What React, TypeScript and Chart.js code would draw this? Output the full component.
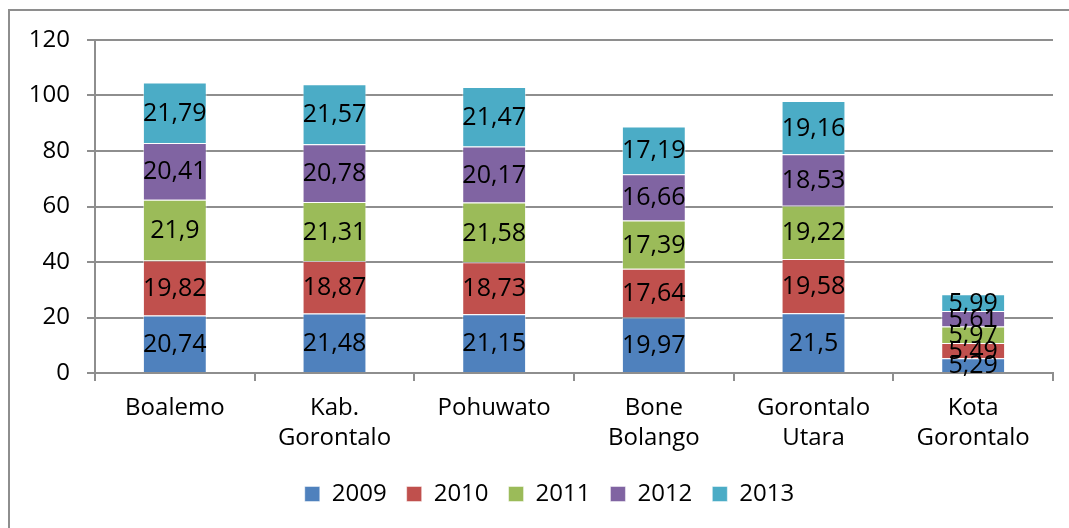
import React, { useEffect, useRef } from "react";
import { Chart, registerables } from "chart.js";

Chart.register(...registerables);

const categories: (string | string[])[] = [
  "Boalemo",
  ["Kab.", "Gorontalo"],
  "Pohuwato",
  ["Bone", "Bolango"],
  ["Gorontalo", "Utara"],
  ["Kota", "Gorontalo"],
];

const seriesNames = ["2009", "2010", "2011", "2012", "2013"];
const values2009 = [20.74, 21.48, 21.15, 19.97, 21.5, 5.29];
const values2010 = [19.82, 18.87, 18.73, 17.64, 19.58, 5.49];
const values2011 = [21.9, 21.31, 21.58, 17.39, 19.22, 5.97];
const values2012 = [20.41, 20.78, 20.17, 16.66, 18.53, 5.61];
const values2013 = [21.79, 21.57, 21.47, 17.19, 19.16, 5.99];
const seriesColors = ["#4F81BD", "#C0504D", "#9BBB59", "#8064A2", "#4BACC6"];
const yTickValues = [0, 20, 40, 60, 80, 100, 120];

const FONT = "'Open Sans', 'Noto Sans', sans-serif";
const GRID = "#8e8e8e";

const labelPlugin = {
  id: "segLabels",
  afterDatasetsDraw(chart: any) {
    const ctx = chart.ctx;
    ctx.save();
    ctx.font = `25px ${FONT}`;
    ctx.fillStyle = "#000";
    ctx.textAlign = "center";
    ctx.textBaseline = "middle";
    chart.data.datasets.forEach((ds: any, di: number) => {
      const meta = chart.getDatasetMeta(di);
      meta.data.forEach((el: any, i: number) => {
        const v = ds.data[i];
        const y = (el.y + el.base) / 2;
        ctx.fillText(String(v).replace(".", ","), el.x, y + 1);
      });
    });
    ctx.restore();
  },
};

const legendShiftPlugin = {
  id: "legendShift",
  afterLayout(chart: any) {
    const lg = chart.legend;
    if (lg) {
      lg.left += 46;
      lg.right += 0;
    }
  },
};

export default function App() {
  const ref = useRef<HTMLCanvasElement>(null);
  useEffect(() => {
    if (!ref.current) return;
    const all = [values2009, values2010, values2011, values2012, values2013];
    const chart = new Chart(ref.current, {
      type: "bar",
      data: {
        labels: categories as any,
        datasets: seriesNames.map((n, i) => ({
          label: n,
          data: all[i],
          backgroundColor: seriesColors[i],
          borderColor: "rgba(255,255,255,0.45)",
          borderWidth: 1,
          categoryPercentage: 1,
          barPercentage: 0.4,
        })),
      },
      options: {
        animation: false,
        responsive: false,
        layout: { padding: { top: 40, right: 16, bottom: 12, left: 0 } },
        plugins: {
          tooltip: { enabled: false },
          legend: {
            position: "bottom",
            labels: {
              boxWidth: 15,
              boxHeight: 15,
              padding: 20,
              color: "#000",
              font: { family: FONT, size: 24 },
            },
          },
        },
        scales: {
          x: {
            stacked: true,
            grid: {
              drawOnChartArea: false,
              drawTicks: true,
              tickLength: 8,
              color: GRID,
              lineWidth: 2,
              offset: true,
            },
            border: { color: GRID, width: 2 },
            ticks: {
              color: "#000",
              padding: 12,
              maxRotation: 0,
              font: { family: FONT, size: 24, lineHeight: 1.25 },
            },
            afterFit(scale: any) {
              scale.height = 89;
            },
          },
          y: {
            stacked: true,
            min: 0,
            max: 120,
            afterBuildTicks(scale: any) {
              scale.ticks = yTickValues.map((v) => ({ value: v }));
            },
            grid: {
              color: GRID,
              lineWidth: 2,
              tickLength: 8,
              drawTicks: true,
            },
            border: { color: GRID, width: 2 },
            ticks: {
              color: "#000",
              padding: 17,
              font: { family: FONT, size: 24 },
            },
            afterFit(scale: any) {
              scale.width = 95;
            },
          },
        },
      },
      plugins: [labelPlugin, legendShiftPlugin],
    });
    return () => chart.destroy();
  }, []);

  return (
    <div
      style={{
        position: "fixed",
        left: 0,
        top: 0,
        width: 1069,
        height: 528,
        overflow: "hidden",
        background: "#fff",
      }}
    >
      <div
        style={{
          position: "absolute",
          left: 8,
          top: 9,
          width: 1200,
          height: 700,
          border: "2px solid #8e8e8e",
        }}
      />
      <canvas
        ref={ref}
        width={1069}
        height={528}
        style={{ position: "absolute", left: 0, top: 0, width: 1069, height: 528 }}
      />
    </div>
  );
}
